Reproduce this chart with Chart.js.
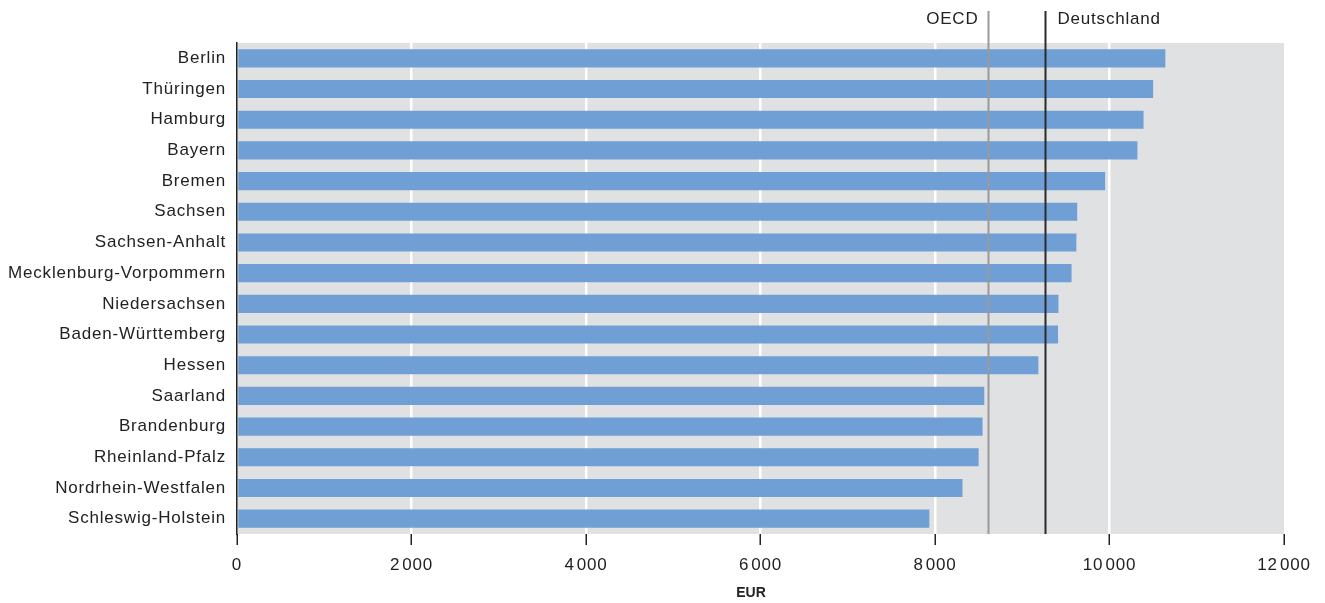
<!DOCTYPE html>
<html lang="de">
<head>
    <meta charset="UTF-8">
    <title>Ausgaben je Schüler</title>
    <script src="https://cdn.jsdelivr.net/npm/chart.js"></script>
    <style>
        body { margin: 0; background: #fff; }
        #wrap { width: 1325px; height: 603px; }
    </style>
</head>
<body>
    <div id="wrap"><canvas id="chart" width="1325" height="603"></canvas></div>

    <script>
        // Länder und Werte in EUR
        var laender = ['Berlin', 'Thüringen', 'Hamburg', 'Bayern', 'Bremen', 'Sachsen', 'Sachsen-Anhalt',
            'Mecklenburg-Vorpommern', 'Niedersachsen', 'Baden-Württemberg', 'Hessen', 'Saarland',
            'Brandenburg', 'Rheinland-Pfalz', 'Nordrhein-Westfalen', 'Schleswig-Holstein'];
        var werte = [10640, 10500, 10390, 10320, 9950, 9630, 9620, 9565, 9415, 9410, 9185, 8565, 8545, 8500, 8315, 7935];

        // Referenzlinien
        var refNamen = ['OECD', 'Deutschland'];
        var refWerte = [8610, 9262];
        var refFarben = ['#9a9a9a', '#2b2b2b'];

        var xMax = 12000;
        var xStep = 2000;
        var achsenTitel = 'EUR';

        var fontFamily = '"Liberation Sans", Arial, sans-serif';
        var spacing = '0.8px';

        function formatTick(v) {
            var s = String(v);
            if (s.length > 3) {
                s = s.slice(0, s.length - 3) + '\u200A' + s.slice(s.length - 3);
            }
            return s;
        }

        // etwas weitere Laufweite wie im Original
        var spacingPlugin = {
            id: 'letterSpacing',
            beforeUpdate: function (chart) { chart.ctx.letterSpacing = spacing; },
            beforeDraw: function (chart) { chart.ctx.letterSpacing = spacing; }
        };

        // Hintergrund des Diagrammbereichs
        var backgroundPlugin = {
            id: 'plotBackground',
            beforeDraw: function (chart) {
                var a = chart.chartArea;
                var ctx = chart.ctx;
                ctx.save();
                ctx.fillStyle = '#e0e1e3';
                ctx.fillRect(a.left, a.top, a.right - a.left, a.bottom - a.top);
                ctx.restore();
            }
        };

        // OECD- und Deutschland-Linien mit Beschriftung, Achsentitel
        var referencePlugin = {
            id: 'referenceLines',
            afterDatasetsDraw: function (chart) {
                var ctx = chart.ctx;
                var x = chart.scales.x;
                var a = chart.chartArea;
                ctx.save();
                ctx.font = '17px ' + fontFamily;
                ctx.textBaseline = 'middle';
                for (var i = 0; i < refWerte.length; i++) {
                    var px = Math.round(x.getPixelForValue(refWerte[i])) + 0.5;
                    ctx.strokeStyle = refFarben[i];
                    ctx.lineWidth = 2;
                    ctx.beginPath();
                    ctx.moveTo(px, 11);
                    ctx.lineTo(px, a.bottom);
                    ctx.stroke();
                    ctx.fillStyle = '#222';
                    if (i === 0) {
                        ctx.textAlign = 'right';
                        ctx.fillText(refNamen[i], px - 10, 19);
                    } else {
                        ctx.textAlign = 'left';
                        ctx.fillText(refNamen[i], px + 12, 19);
                    }
                }
                ctx.letterSpacing = '0px';
                ctx.font = 'bold 14px ' + fontFamily;
                ctx.textAlign = 'center';
                ctx.fillText(achsenTitel, 751, 593);
                ctx.restore();
            }
        };

        var ctx = document.getElementById('chart').getContext('2d');
        var chart = new Chart(ctx, {
            type: 'bar',
            data: {
                labels: laender,
                datasets: [{
                    data: werte,
                    backgroundColor: '#6f9fd5',
                    borderWidth: 0,
                    barPercentage: 0.59,
                    categoryPercentage: 1
                }]
            },
            options: {
                indexAxis: 'y',
                responsive: false,
                animation: false,
                layout: {
                    padding: { top: 43, right: 41, left: 0, bottom: 0 }
                },
                plugins: {
                    legend: { display: false },
                    tooltip: { enabled: false }
                },
                scales: {
                    x: {
                        min: 0,
                        max: xMax,
                        ticks: {
                            stepSize: xStep,
                            color: '#222',
                            padding: 10,
                            font: { family: fontFamily, size: 17 },
                            callback: function (v) { return formatTick(v); }
                        },
                        grid: {
                            color: function (c) {
                                var v = c.tick ? c.tick.value : 0;
                                return (v > 0 && v < xMax) ? '#ffffff' : 'rgba(0,0,0,0)';
                            },
                            lineWidth: 2.5,
                            tickColor: '#222',
                            tickWidth: 1.5,
                            tickLength: 11,
                            drawOnChartArea: true
                        },
                        border: { display: false },
                        afterFit: function (s) { s.height = 603 - 534; }
                    },
                    y: {
                        ticks: {
                            color: '#222',
                            padding: 11,
                            font: { family: fontFamily, size: 17 }
                        },
                        grid: { display: false, drawTicks: false },
                        border: { display: true, color: '#222', width: 1.5 },
                        afterFit: function (s) { s.width = 237; }
                    }
                }
            },
            plugins: [spacingPlugin, backgroundPlugin, referencePlugin]
        });
    </script>
</body>
</html>
